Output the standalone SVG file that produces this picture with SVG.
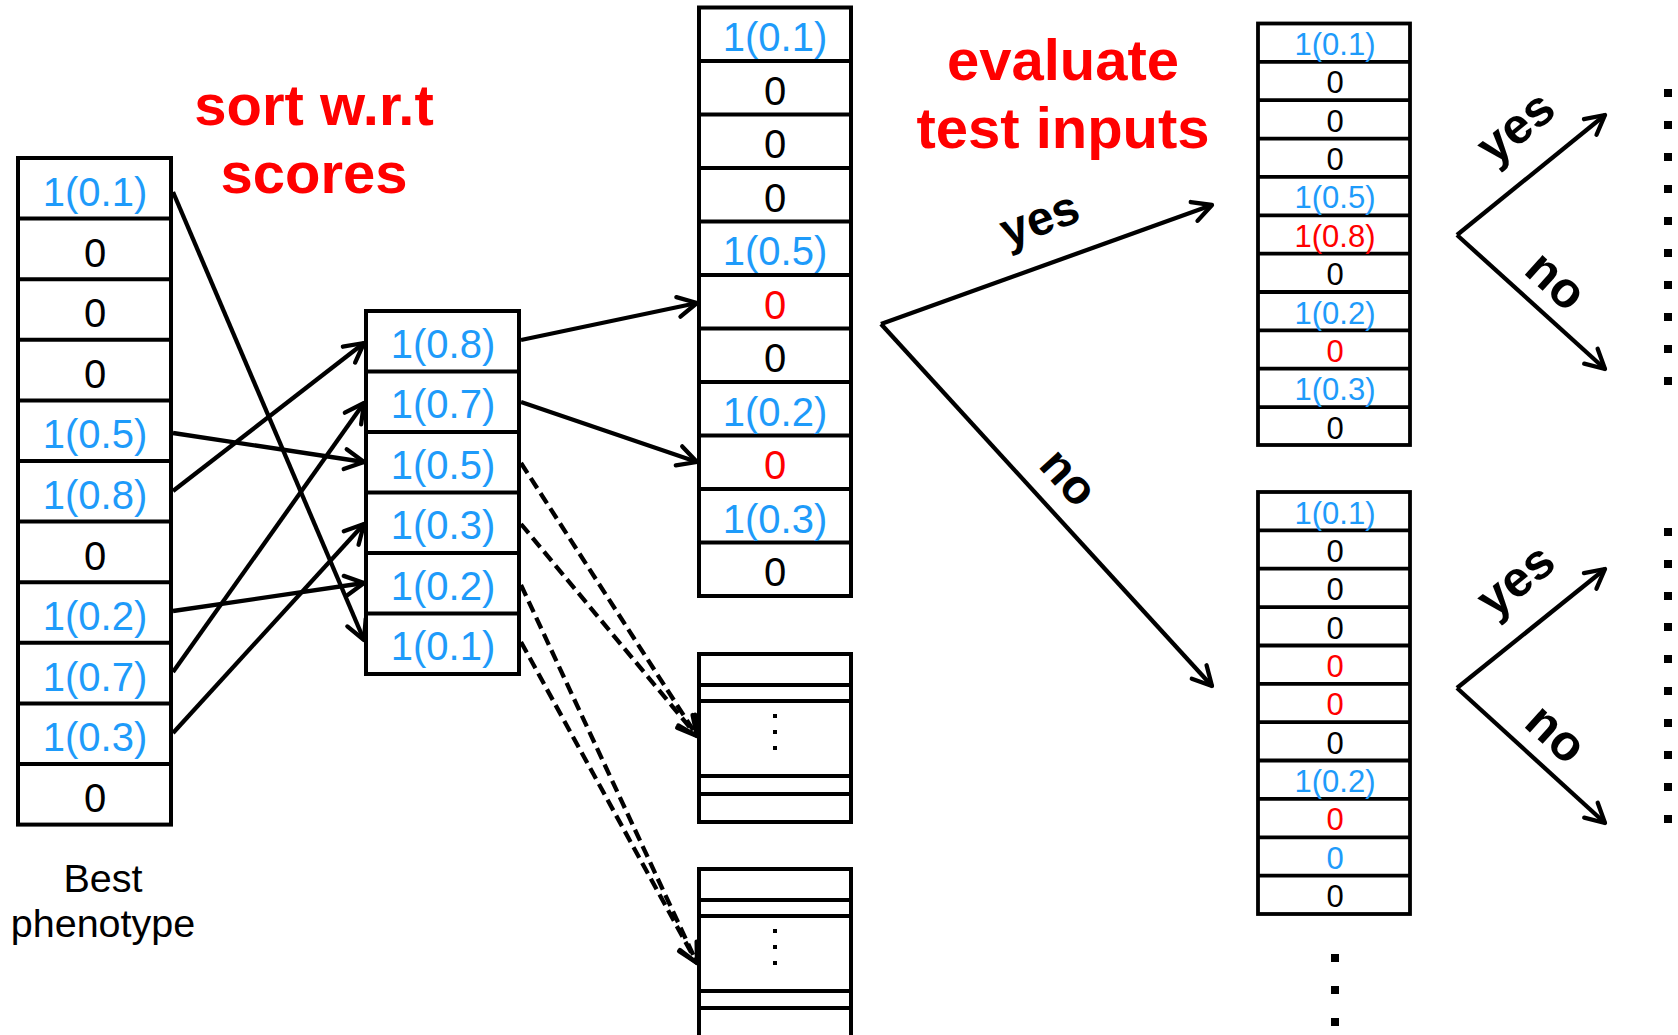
<svg xmlns="http://www.w3.org/2000/svg" width="1678" height="1035" viewBox="0 0 1678 1035">
<style>
.box{fill:#fff;stroke:#000;stroke-width:4}
.sep{stroke:#000;stroke-width:4}
.rbox{fill:#fff;stroke:#000;stroke-width:3.8}
.rsep{stroke:#000;stroke-width:3.8}
.t{font-family:"Liberation Sans",Arial,sans-serif;font-size:40px;text-anchor:middle}
.ts{font-family:"Liberation Sans",Arial,sans-serif;font-size:31px;text-anchor:middle}
.b{fill:#1E9BFA}
.k{fill:#000}
.r{fill:#FF0000}
.title{font-family:"Liberation Sans",Arial,sans-serif;font-size:58px;font-weight:bold;fill:#FF0000;text-anchor:middle}
.lbl{font-family:"Liberation Sans",Arial,sans-serif;font-size:48px;font-weight:bold;fill:#000;text-anchor:middle}
.lbr{font-family:"Liberation Sans",Arial,sans-serif;font-size:50px;font-weight:bold;fill:#000;text-anchor:middle}
.cap{font-family:"Liberation Sans",Arial,sans-serif;font-size:39.5px;fill:#000;text-anchor:middle}
.ln{fill:none;stroke:#000;stroke-width:4.3;marker-end:url(#ah)}
.dl{fill:none;stroke:#000;stroke-width:4.3;stroke-dasharray:12 6;marker-end:url(#ah)}
.dot{fill:#000}
</style>
<defs>
<marker id="ah" viewBox="-24 -14 28 28" markerWidth="28" markerHeight="28" refX="0" refY="0" orient="auto" markerUnits="userSpaceOnUse">
<path d="M-19,-10 L0,0 L-19,10" fill="none" stroke="#000" stroke-width="4.3" stroke-linecap="round" stroke-linejoin="round" stroke-dasharray="none"/>
</marker>
</defs>
<rect width="1678" height="1035" fill="#fff"/>

<text class="title" x="314" y="125">sort w.r.t</text>
<text class="title" x="314" y="193">scores</text>
<text class="title" x="1063" y="80">evaluate</text>
<text class="title" x="1063" y="148">test inputs</text>

<g id="best-phenotype">
<rect class="box" x="18" y="158" width="153" height="666.6"/>
<line class="sep" x1="18" x2="171" y1="218.6" y2="218.6"/>
<line class="sep" x1="18" x2="171" y1="279.2" y2="279.2"/>
<line class="sep" x1="18" x2="171" y1="339.8" y2="339.8"/>
<line class="sep" x1="18" x2="171" y1="400.4" y2="400.4"/>
<line class="sep" x1="18" x2="171" y1="461" y2="461"/>
<line class="sep" x1="18" x2="171" y1="521.6" y2="521.6"/>
<line class="sep" x1="18" x2="171" y1="582.2" y2="582.2"/>
<line class="sep" x1="18" x2="171" y1="642.8" y2="642.8"/>
<line class="sep" x1="18" x2="171" y1="703.4" y2="703.4"/>
<line class="sep" x1="18" x2="171" y1="764" y2="764"/>
<text class="t b" x="95" y="206">1(0.1)</text>
<text class="t k" x="95" y="266.6">0</text>
<text class="t k" x="95" y="327.2">0</text>
<text class="t k" x="95" y="387.8">0</text>
<text class="t b" x="95" y="448.4">1(0.5)</text>
<text class="t b" x="95" y="509">1(0.8)</text>
<text class="t k" x="95" y="569.6">0</text>
<text class="t b" x="95" y="630.2">1(0.2)</text>
<text class="t b" x="95" y="690.8">1(0.7)</text>
<text class="t b" x="95" y="751.4">1(0.3)</text>
<text class="t k" x="95" y="812">0</text>
<text class="cap" x="103" y="892">Best</text>
<text class="cap" x="103" y="937">phenotype</text>
</g>

<g id="sorted">
<rect class="box" x="366" y="311" width="153" height="363"/>
<line class="sep" x1="366" x2="519" y1="371.5" y2="371.5"/>
<line class="sep" x1="366" x2="519" y1="432" y2="432"/>
<line class="sep" x1="366" x2="519" y1="492.5" y2="492.5"/>
<line class="sep" x1="366" x2="519" y1="553" y2="553"/>
<line class="sep" x1="366" x2="519" y1="613.5" y2="613.5"/>
<text class="t b" x="443" y="357.5">1(0.8)</text>
<text class="t b" x="443" y="418">1(0.7)</text>
<text class="t b" x="443" y="478.5">1(0.5)</text>
<text class="t b" x="443" y="539">1(0.3)</text>
<text class="t b" x="443" y="599.5">1(0.2)</text>
<text class="t b" x="443" y="660">1(0.1)</text>
</g>

<g id="mutant-1">
<rect class="box" x="699" y="7.5" width="152" height="588.5"/>
<line class="sep" x1="699" x2="851" y1="61" y2="61"/>
<line class="sep" x1="699" x2="851" y1="114.5" y2="114.5"/>
<line class="sep" x1="699" x2="851" y1="168" y2="168"/>
<line class="sep" x1="699" x2="851" y1="221.5" y2="221.5"/>
<line class="sep" x1="699" x2="851" y1="275" y2="275"/>
<line class="sep" x1="699" x2="851" y1="328.5" y2="328.5"/>
<line class="sep" x1="699" x2="851" y1="382" y2="382"/>
<line class="sep" x1="699" x2="851" y1="435.5" y2="435.5"/>
<line class="sep" x1="699" x2="851" y1="489" y2="489"/>
<line class="sep" x1="699" x2="851" y1="542.5" y2="542.5"/>
<text class="t b" x="775" y="51">1(0.1)</text>
<text class="t k" x="775" y="104.5">0</text>
<text class="t k" x="775" y="158">0</text>
<text class="t k" x="775" y="211.5">0</text>
<text class="t b" x="775" y="265">1(0.5)</text>
<text class="t r" x="775" y="318.5">0</text>
<text class="t k" x="775" y="372">0</text>
<text class="t b" x="775" y="425.5">1(0.2)</text>
<text class="t r" x="775" y="479">0</text>
<text class="t b" x="775" y="532.5">1(0.3)</text>
<text class="t k" x="775" y="586">0</text>
</g>

<g id="mutant-2">
<rect class="box" x="699" y="654" width="152" height="168"/>
<line class="sep" x1="699" x2="851" y1="685" y2="685"/>
<line class="sep" x1="699" x2="851" y1="701" y2="701"/>
<line class="sep" x1="699" x2="851" y1="776" y2="776"/>
<line class="sep" x1="699" x2="851" y1="794" y2="794"/>
<rect class="dot" x="773" y="714" width="4" height="4"/>
<rect class="dot" x="773" y="730" width="4" height="4"/>
<rect class="dot" x="773" y="746" width="4" height="4"/>
</g>

<g id="mutant-3">
<rect class="box" x="699" y="869" width="152" height="180"/>
<line class="sep" x1="699" x2="851" y1="900" y2="900"/>
<line class="sep" x1="699" x2="851" y1="916" y2="916"/>
<line class="sep" x1="699" x2="851" y1="991" y2="991"/>
<line class="sep" x1="699" x2="851" y1="1008" y2="1008"/>
<rect class="dot" x="773" y="929" width="4" height="4"/>
<rect class="dot" x="773" y="945" width="4" height="4"/>
<rect class="dot" x="773" y="961" width="4" height="4"/>
</g>

<g id="yes-child">
<rect class="rbox" x="1258" y="23.5" width="152" height="421.5"/>
<line class="rsep" x1="1258" x2="1410" y1="61.9" y2="61.9"/>
<line class="rsep" x1="1258" x2="1410" y1="100.2" y2="100.2"/>
<line class="rsep" x1="1258" x2="1410" y1="138.6" y2="138.6"/>
<line class="rsep" x1="1258" x2="1410" y1="176.9" y2="176.9"/>
<line class="rsep" x1="1258" x2="1410" y1="215.3" y2="215.3"/>
<line class="rsep" x1="1258" x2="1410" y1="253.7" y2="253.7"/>
<line class="rsep" x1="1258" x2="1410" y1="292" y2="292"/>
<line class="rsep" x1="1258" x2="1410" y1="330.4" y2="330.4"/>
<line class="rsep" x1="1258" x2="1410" y1="368.7" y2="368.7"/>
<line class="rsep" x1="1258" x2="1410" y1="407.1" y2="407.1"/>
<text class="ts b" x="1335" y="55">1(0.1)</text>
<text class="ts k" x="1335" y="93.4">0</text>
<text class="ts k" x="1335" y="131.7">0</text>
<text class="ts k" x="1335" y="170.1">0</text>
<text class="ts b" x="1335" y="208.4">1(0.5)</text>
<text class="ts r" x="1335" y="246.8">1(0.8)</text>
<text class="ts k" x="1335" y="285.2">0</text>
<text class="ts b" x="1335" y="323.5">1(0.2)</text>
<text class="ts r" x="1335" y="361.9">0</text>
<text class="ts b" x="1335" y="400.2">1(0.3)</text>
<text class="ts k" x="1335" y="438.6">0</text>
</g>

<g id="no-child">
<rect class="rbox" x="1258" y="492" width="152" height="422"/>
<line class="rsep" x1="1258" x2="1410" y1="530.4" y2="530.4"/>
<line class="rsep" x1="1258" x2="1410" y1="568.7" y2="568.7"/>
<line class="rsep" x1="1258" x2="1410" y1="607.1" y2="607.1"/>
<line class="rsep" x1="1258" x2="1410" y1="645.5" y2="645.5"/>
<line class="rsep" x1="1258" x2="1410" y1="683.8" y2="683.8"/>
<line class="rsep" x1="1258" x2="1410" y1="722.2" y2="722.2"/>
<line class="rsep" x1="1258" x2="1410" y1="760.5" y2="760.5"/>
<line class="rsep" x1="1258" x2="1410" y1="798.9" y2="798.9"/>
<line class="rsep" x1="1258" x2="1410" y1="837.3" y2="837.3"/>
<line class="rsep" x1="1258" x2="1410" y1="875.6" y2="875.6"/>
<text class="ts b" x="1335" y="523.5">1(0.1)</text>
<text class="ts k" x="1335" y="561.9">0</text>
<text class="ts k" x="1335" y="600.2">0</text>
<text class="ts k" x="1335" y="638.6">0</text>
<text class="ts r" x="1335" y="677">0</text>
<text class="ts r" x="1335" y="715.3">0</text>
<text class="ts k" x="1335" y="753.7">0</text>
<text class="ts b" x="1335" y="792">1(0.2)</text>
<text class="ts r" x="1335" y="830.4">0</text>
<text class="ts b" x="1335" y="868.8">0</text>
<text class="ts k" x="1335" y="907.1">0</text>
<rect class="dot" x="1331" y="954" width="8" height="8"/>
<rect class="dot" x="1331" y="986" width="8" height="8"/>
<rect class="dot" x="1331" y="1018" width="8" height="8"/>
</g>

<g id="continuation-dots">
<rect class="dot" x="1664" y="89" width="8" height="8"/>
<rect class="dot" x="1664" y="121" width="8" height="8"/>
<rect class="dot" x="1664" y="153" width="8" height="8"/>
<rect class="dot" x="1664" y="185" width="8" height="8"/>
<rect class="dot" x="1664" y="217" width="8" height="8"/>
<rect class="dot" x="1664" y="249" width="8" height="8"/>
<rect class="dot" x="1664" y="281" width="8" height="8"/>
<rect class="dot" x="1664" y="313" width="8" height="8"/>
<rect class="dot" x="1664" y="345" width="8" height="8"/>
<rect class="dot" x="1664" y="377" width="8" height="8"/>
<rect class="dot" x="1664" y="528" width="8" height="8"/>
<rect class="dot" x="1664" y="560" width="8" height="8"/>
<rect class="dot" x="1664" y="592" width="8" height="8"/>
<rect class="dot" x="1664" y="623" width="8" height="8"/>
<rect class="dot" x="1664" y="655" width="8" height="8"/>
<rect class="dot" x="1664" y="687" width="8" height="8"/>
<rect class="dot" x="1664" y="719" width="8" height="8"/>
<rect class="dot" x="1664" y="751" width="8" height="8"/>
<rect class="dot" x="1664" y="783" width="8" height="8"/>
<rect class="dot" x="1664" y="815" width="8" height="8"/>
</g>

<g id="connectors">
<line class="ln" x1="173" y1="192" x2="364" y2="640"/>
<line class="ln" x1="173" y1="433" x2="364" y2="462"/>
<line class="ln" x1="173" y1="491" x2="364" y2="343"/>
<line class="ln" x1="173" y1="611" x2="364" y2="583"/>
<line class="ln" x1="173" y1="672" x2="364" y2="403"/>
<line class="ln" x1="173" y1="733" x2="364" y2="524"/>
<line class="ln" x1="521" y1="340" x2="697" y2="303"/>
<line class="ln" x1="521" y1="402" x2="697" y2="462"/>
<line class="dl" x1="521" y1="463" x2="697" y2="736"/>
<line class="dl" x1="521" y1="524" x2="697" y2="736"/>
<line class="dl" x1="521" y1="585" x2="697" y2="963"/>
<line class="dl" x1="521" y1="642" x2="697" y2="963"/>
<polyline class="ln" points="881,324 1212,205"/>
<polyline class="ln" points="881,324 1212,686"/>
<polyline class="ln" points="1457,235 1605,115"/>
<polyline class="ln" points="1457,235 1605,369"/>
<polyline class="ln" points="1457,688 1605,569"/>
<polyline class="ln" points="1457,688 1605,823"/>
<text class="lbl" transform="translate(1045,234) rotate(-20)">yes</text>
<text class="lbl" transform="translate(1057,488) rotate(47.7)">no</text>
<text class="lbr" transform="translate(1526,140) rotate(-39)">yes</text>
<text class="lbr" transform="translate(1545,293) rotate(42)">no</text>
<text class="lbr" transform="translate(1526,593) rotate(-39)">yes</text>
<text class="lbr" transform="translate(1545,746) rotate(42)">no</text>
</g>
</svg>
